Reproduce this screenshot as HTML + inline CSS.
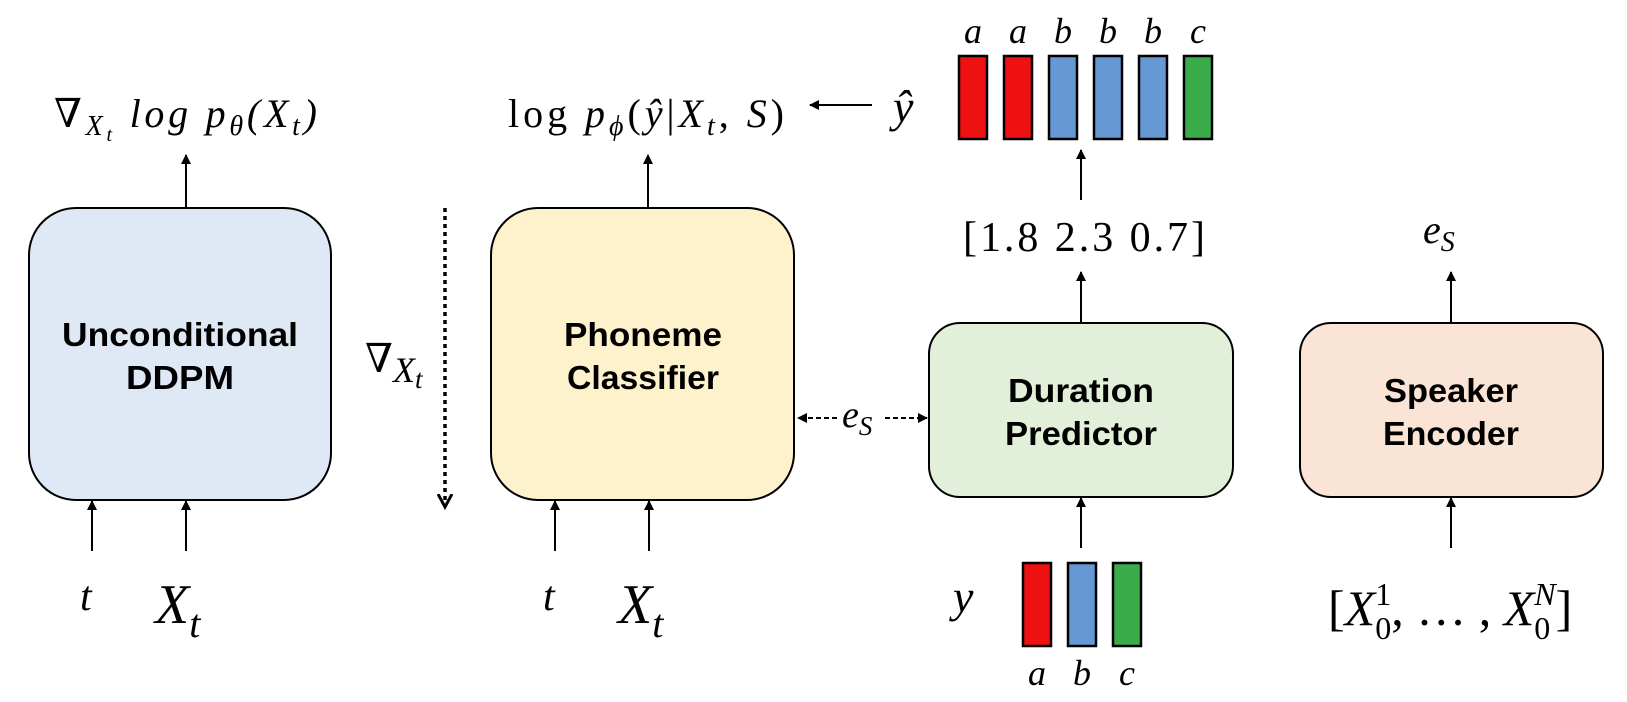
<!DOCTYPE html>
<html><head><meta charset="utf-8"><style>
html,body{margin:0;padding:0;background:#fff;}
svg{display:block;}
.m{font-family:"Liberation Serif","DejaVu Serif",serif;font-style:italic;}
.r{font-family:"Liberation Serif","DejaVu Serif",serif;}
.b{font-family:"Liberation Sans","DejaVu Sans",sans-serif;font-weight:bold;}
</style></head><body>
<svg width="1627" height="702" viewBox="0 0 1627 702" xmlns="http://www.w3.org/2000/svg">
<defs>
<marker id="ah" markerWidth="10" markerHeight="10" refX="9" refY="5" orient="auto" markerUnits="userSpaceOnUse">
<path d="M0,0 L10,5 L0,10 z" fill="#000"/></marker>
<marker id="ah2" markerWidth="16" markerHeight="16" refX="12" refY="8" orient="auto" markerUnits="userSpaceOnUse">
<path d="M0,1 L13,8 L0,15" fill="none" stroke="#000" stroke-width="3"/></marker>
</defs>
<g stroke="#000" stroke-width="2">
<rect x="29" y="208" width="302" height="292" rx="47" fill="#dfe9f6"/>
<rect x="491" y="208" width="303" height="292" rx="47" fill="#fef2cc"/>
<rect x="929" y="323" width="304" height="174" rx="31" fill="#e2efd9"/>
<rect x="1300" y="323" width="303" height="174" rx="31" fill="#f9e4d6"/>
</g>
<g class="b" font-size="33" text-anchor="middle" fill="#000">
<text x="180" y="346" textLength="236" lengthAdjust="spacingAndGlyphs">Unconditional</text>
<text x="180" y="389" textLength="108" lengthAdjust="spacingAndGlyphs">DDPM</text>
<text x="643" y="346" textLength="158" lengthAdjust="spacingAndGlyphs">Phoneme</text>
<text x="643" y="389" textLength="152" lengthAdjust="spacingAndGlyphs">Classifier</text>
<text x="1081" y="402" textLength="146" lengthAdjust="spacingAndGlyphs">Duration</text>
<text x="1081" y="445" textLength="152" lengthAdjust="spacingAndGlyphs">Predictor</text>
<text x="1451" y="402" textLength="134" lengthAdjust="spacingAndGlyphs">Speaker</text>
<text x="1451" y="445" textLength="136" lengthAdjust="spacingAndGlyphs">Encoder</text>
</g>
<g stroke="#000" stroke-width="2" marker-end="url(#ah)">
<line x1="186" y1="208" x2="186" y2="155"/>
<line x1="648" y1="208" x2="648" y2="155"/>
<line x1="92" y1="551" x2="92" y2="501"/>
<line x1="186" y1="551" x2="186" y2="501"/>
<line x1="555" y1="551" x2="555" y2="501"/>
<line x1="649" y1="551" x2="649" y2="501"/>
<line x1="1081" y1="548" x2="1081" y2="498"/>
<line x1="1081" y1="323" x2="1081" y2="272"/>
<line x1="1081" y1="200" x2="1081" y2="150"/>
<line x1="1451" y1="548" x2="1451" y2="498"/>
<line x1="1451" y1="323" x2="1451" y2="272"/>
<line x1="872" y1="105" x2="810" y2="105"/>
</g>
<g stroke="#000" stroke-width="2" stroke-dasharray="5,3">
<line x1="837" y1="418" x2="798" y2="418" marker-end="url(#ah)"/>
<line x1="885" y1="418" x2="927" y2="418" marker-end="url(#ah)"/>
</g>
<line x1="445" y1="208" x2="445" y2="506" stroke="#000" stroke-width="3.5" stroke-dasharray="4,4" marker-end="url(#ah2)"/>
<text class="m" x="54" y="127" font-size="40" textLength="263" lengthAdjust="spacing">∇<tspan font-size="28" dy="8">X</tspan><tspan font-size="20" dy="6">t</tspan><tspan dy="-14"> log p</tspan><tspan font-size="28" dy="8">θ</tspan><tspan dy="-8">(X</tspan><tspan font-size="28" dy="8">t</tspan><tspan dy="-8">)</tspan></text>
<text x="508" y="127" font-size="40" textLength="276" lengthAdjust="spacing"><tspan class="r">log </tspan><tspan class="m">p</tspan><tspan class="m" font-size="28" dy="8">ϕ</tspan><tspan class="r" dy="-8">(</tspan><tspan class="m">ŷ</tspan><tspan class="r">|</tspan><tspan class="m">X</tspan><tspan class="m" font-size="28" dy="8">t</tspan><tspan class="r" dy="-8">, </tspan><tspan class="m">S</tspan><tspan class="r">)</tspan></text>
<text class="m" x="893" y="122" font-size="46">ŷ</text>
<g stroke="#000" stroke-width="2.5">
<rect x="959" y="56" width="28" height="83" fill="#ee1111"/>
<rect x="1004" y="56" width="28" height="83" fill="#ee1111"/>
<rect x="1049" y="56" width="28" height="83" fill="#6699d4"/>
<rect x="1094" y="56" width="28" height="83" fill="#6699d4"/>
<rect x="1139" y="56" width="28" height="83" fill="#6699d4"/>
<rect x="1184" y="56" width="28" height="83" fill="#3aad4a"/>
<rect x="1023" y="563" width="28" height="83" fill="#ee1111"/>
<rect x="1068" y="563" width="28" height="83" fill="#6699d4"/>
<rect x="1113" y="563" width="28" height="83" fill="#3aad4a"/>
</g>
<g class="m" font-size="36" text-anchor="middle">
<text x="973" y="43">a</text><text x="1018" y="43">a</text><text x="1063" y="43">b</text>
<text x="1108" y="43">b</text><text x="1153" y="43">b</text><text x="1198" y="43">c</text>
<text x="1037" y="685">a</text><text x="1082" y="685">b</text><text x="1127" y="685">c</text>
</g>
<text class="r" x="963" y="251" font-size="42" textLength="242" lengthAdjust="spacing">[1.8  2.3  0.7]</text>
<text class="m" x="1423" y="243" font-size="40">e<tspan font-size="28" dy="8">S</tspan></text>
<text class="m" x="842" y="427" font-size="38">e<tspan font-size="27" dy="8">S</tspan></text>
<text class="m" x="365" y="372" font-size="40">∇<tspan font-size="36" dy="10">X</tspan><tspan font-size="27" dy="6">t</tspan></text>
<text class="m" x="80" y="610" font-size="42">t</text>
<text class="m" x="155" y="623" font-size="56">X<tspan font-size="40" dy="14">t</tspan></text>
<text class="m" x="543" y="610" font-size="42">t</text>
<text class="m" x="618" y="623" font-size="56">X<tspan font-size="40" dy="14">t</tspan></text>
<text class="m" x="953" y="612" font-size="46">y</text>
<text x="1328" y="625" font-size="50"><tspan class="r">[</tspan><tspan class="m">X</tspan><tspan class="r" font-size="32" dy="14">0</tspan><tspan class="r" font-size="32" dx="-16" dy="-34">1</tspan><tspan class="r" dy="20">, … , </tspan><tspan class="m">X</tspan><tspan class="r" font-size="32" dy="14">0</tspan><tspan class="m" font-size="32" dx="-16" dy="-34">N</tspan><tspan class="r" dy="20">]</tspan></text>
</svg>
</body></html>
